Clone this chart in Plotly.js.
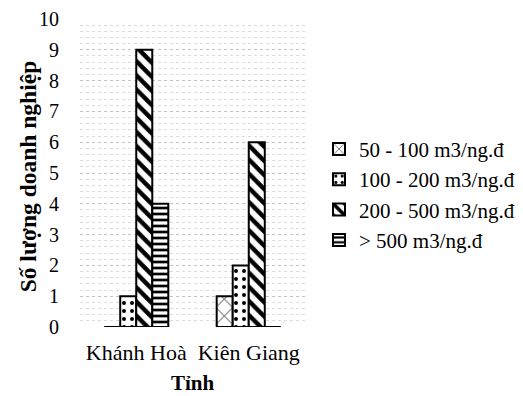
<!DOCTYPE html>
<html>
<head>
<meta charset="utf-8">
<script src="https://cdn.plot.ly/plotly-3.0.1.min.js"></script>
<style>html,body{margin:0;padding:0;background:#fff;}#chart{width:523px;height:396px;}</style>
</head>
<body>
<div id="chart"></div>
<script>
const categories = ['Khánh Hoà', 'Kiên Giang'];
const seriesNames = ['50 - 100 m3/ng.đ', '100 - 200 m3/ng.đ', '200 - 500 m3/ng.đ', '> 500 m3/ng.đ'];
const s50_100 = [0, 1];
const s100_200 = [1, 2];
const s200_500 = [9, 6];
const s500plus = [4, 0];
const yTicks = [0,1,2,3,4,5,6,7,8,9,10];
const yTitle = 'Số lượng doanh nghiệp';
const xTitle = 'Tỉnh';

const values = [s50_100, s100_200, s200_500, s500plus];
const patterns = [
  {shape: 'x', size: 12, solidity: 0.12, fgcolor: '#000', bgcolor: '#fff'},
  {shape: '.', size: 8, solidity: 0.2, fgcolor: '#000', bgcolor: '#fff'},
  {shape: '\\', size: 10, solidity: 0.45, fgcolor: '#000', bgcolor: '#fff'},
  {shape: '-', size: 6, solidity: 0.45, fgcolor: '#000', bgcolor: '#fff'}
];

const traces = values.map((v, i) => ({
  type: 'bar',
  name: seriesNames[i],
  x: categories,
  y: v,
  marker: {color: '#fff', line: {color: '#000', width: 2}, pattern: patterns[i]}
}));

const FAM = 'Liberation Serif';
const mk = (size) => ({family: FAM, size: size, color: '#000'});

const layout = {
  width: 523, height: 396,
  margin: {l: 80, r: 218, t: 19, b: 69},
  paper_bgcolor: '#fff', plot_bgcolor: '#fff',
  font: mk(20),
  barmode: 'group',
  bargap: 0.43,
  bargroupgap: 0,
  showlegend: true,
  legend: {
    xref: 'container', yref: 'container',
    x: 0.61, xanchor: 'left', y: 0.508, yanchor: 'middle',
    font: mk(21),
    tracegroupgap: 0, itemwidth: 30, traceorder: 'normal'
  },
  xaxis: {
    showgrid: false, zeroline: false, showline: false,
    tickfont: mk(22),
    ticklabelstandoff: 10,
    title: {text: '<b>' + xTitle + '</b>', font: mk(21), standoff: 11}
  },
  yaxis: {
    range: [0, 10], tickvals: yTicks, ticktext: yTicks.map(String),
    showgrid: true, gridcolor: '#c4c4c4', griddash: 'dot', gridwidth: 1,
    minor: {dtick: 0.2, showgrid: true, gridcolor: '#dcdcdc', griddash: 'dot', gridwidth: 1},
    zeroline: false, showline: false,
    ticklabelstandoff: 20,
    tickfont: mk(20)
  },
  annotations: [{
    text: '<b>' + yTitle + '</b>', textangle: -90,
    xref: 'paper', yref: 'paper', x: -0.23, y: 0.49,
    xanchor: 'center', yanchor: 'middle', showarrow: false,
    font: mk(23.5)
  }]
};

Plotly.newPlot('chart', traces, layout, {displayModeBar: false, staticPlot: true});
</script>
</body>
</html>
